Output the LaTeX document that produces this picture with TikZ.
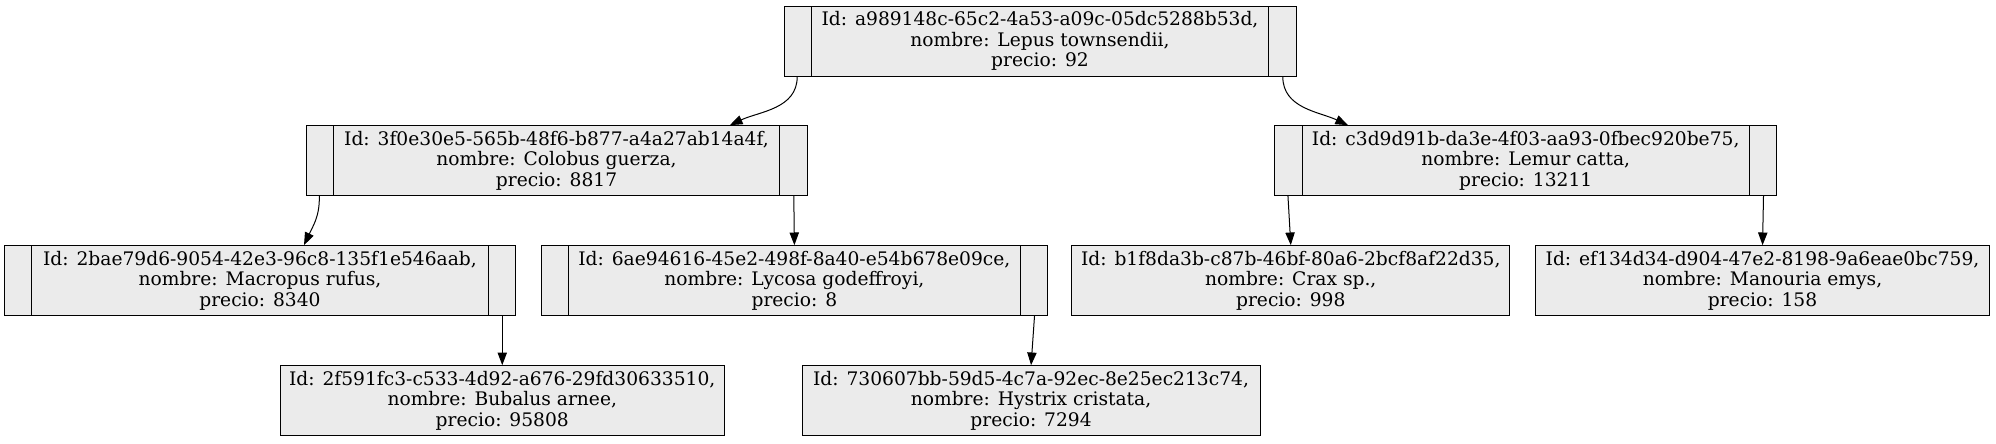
\documentclass[tikz,border=0pt]{standalone}
\usepackage{fontspec}
\setmainfont{DejaVu Serif}
\usepackage{tikz}
\usetikzlibrary{positioning,calc,arrows.meta}

\begin{document}
\begin{tikzpicture}[x=1pt,y=1pt,
    nodo/.style={draw, rectangle, line width=0.75pt, fill=black!8, minimum height=52.5pt, inner sep=0pt, align=center, font=\fontsize{14}{15.5}\selectfont},
    registro/.style={nodo, path picture={
        \draw[line width=0.75pt] ([xshift=20.6pt]path picture bounding box.north west) -- ([xshift=20.6pt]path picture bounding box.south west);
        \draw[line width=0.75pt] ([xshift=-20.6pt]path picture bounding box.north east) -- ([xshift=-20.6pt]path picture bounding box.south east);}},
    flecha/.style={line width=0.75pt, -{Triangle[length=9.5pt,width=7pt]}}]
\useasboundingbox (0,0) rectangle (1497,-332.25);

\node[registro, minimum width=384pt] (lepus) at (780,-30.75) {Id: a989148c-65c2-4a53-a09c-05dc5288b53d,\\nombre: Lepus townsendii,\\precio: 92};
\node[registro, minimum width=375.75pt] (colobus) at (417.4,-120.5) {Id: 3f0e30e5-565b-48f6-b877-a4a27ab14a4f,\\nombre: Colobus guerza,\\precio: 8817};
\node[registro, minimum width=376.5pt] (lemur) at (1144.3,-120.5) {Id: c3d9d91b-da3e-4f03-aa93-0fbec920be75,\\nombre: Lemur catta,\\precio: 13211};
\node[registro, minimum width=383.25pt] (macropus) at (195,-210.5) {Id: 2bae79d6-9054-42e3-96c8-135f1e546aab,\\nombre: Macropus rufus,\\precio: 8340};
\node[registro, minimum width=380pt] (lycosa) at (595.8,-210.5) {Id: 6ae94616-45e2-498f-8a40-e54b678e09ce,\\nombre: Lycosa godeffroyi,\\precio: 8};
\node[nodo, minimum width=328.4pt] (crax) at (968.1,-210.5) {Id: b1f8da3b-c87b-46bf-80a6-2bcf8af22d35,\\nombre: Crax sp.,\\precio: 998};
\node[nodo, minimum width=340.9pt] (manouria) at (1321.9,-210.5) {Id: ef134d34-d904-47e2-8198-9a6eae0bc759,\\nombre: Manouria emys,\\precio: 158};
\node[nodo, minimum width=333.2pt] (bubalus) at (376.7,-300.5) {Id: 2f591fc3-c533-4d92-a676-29fd30633510,\\nombre: Bubalus arnee,\\precio: 95808};
\node[nodo, minimum width=343.5pt] (hystrix) at (773.3,-300.5) {Id: 730607bb-59d5-4c7a-92ec-8e25ec213c74,\\nombre: Hystrix cristata,\\precio: 7294};

\draw[flecha] ([xshift=10.3pt]lepus.south west) to[out=-90,in=25] ([xshift=130pt]colobus.north);
\draw[flecha] ([xshift=-10.3pt]lepus.south east) to[out=-90,in=155] ([xshift=-133.3pt]lemur.north);
\draw[flecha] ([xshift=10.3pt]colobus.south west) to[out=-88,in=65] ([xshift=33pt]macropus.north);
\draw[flecha] ([xshift=-10.3pt]colobus.south east) -- (lycosa.north);
\draw[flecha] ([xshift=10.3pt]lemur.south west) -- (crax.north);
\draw[flecha] ([xshift=-10.3pt]lemur.south east) -- (manouria.north);
\draw[flecha] ([xshift=-10.3pt]macropus.south east) -- (bubalus.north);
\draw[flecha] ([xshift=-10.3pt]lycosa.south east) -- (hystrix.north);
\end{tikzpicture}
\end{document}
